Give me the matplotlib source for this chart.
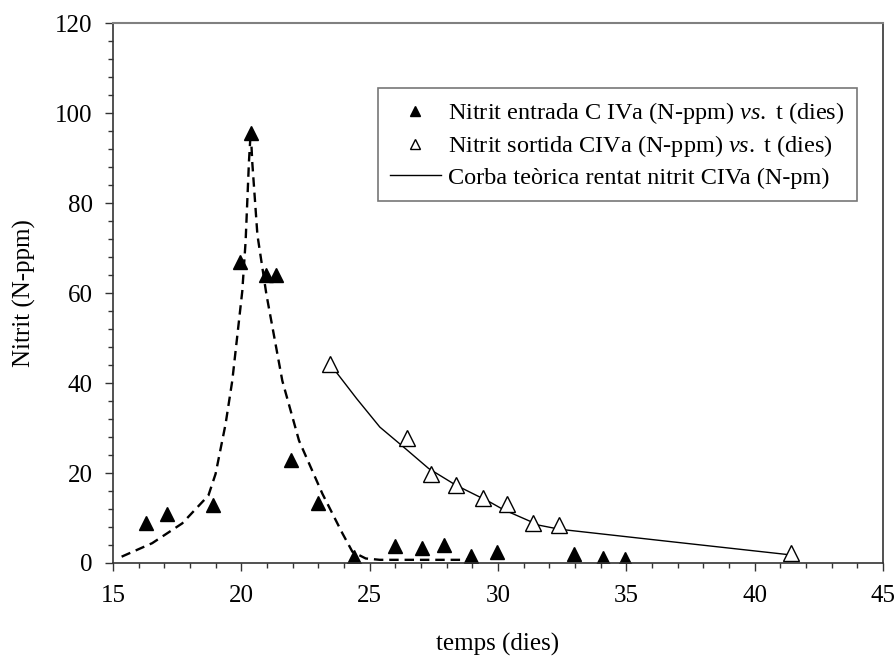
import matplotlib
matplotlib.use("Agg")
import matplotlib.pyplot as plt
from matplotlib.ticker import MultipleLocator

plt.rcParams['font.family'] = ['Liberation Serif', 'DejaVu Serif']
plt.rcParams['mathtext.fontset'] = 'custom'
plt.rcParams['mathtext.it'] = 'Liberation Serif:italic'
plt.rcParams['mathtext.rm'] = 'Liberation Serif'

# dades d'entrada (triangles plens)
t_entrada = [16.3, 17.1, 18.9, 19.94, 20.37, 20.98, 21.37, 21.95, 23.0, 24.4,
             26.0, 27.05, 27.9, 28.95, 29.95, 32.97, 34.1, 34.96]
n_entrada = [8.8, 10.8, 12.8, 67.0, 95.5, 64.0, 64.0, 23.0, 13.3, 1.4,
             3.8, 3.3, 4.0, 1.6, 2.4, 1.9, 1.2, 0.8]

# dades de sortida (triangles buits)
t_sortida = [23.46, 26.45, 27.39, 28.36, 29.4, 30.37, 31.38, 32.36, 41.42]
n_sortida = [44.2, 27.8, 19.8, 17.4, 14.5, 13.1, 8.8, 8.4, 2.3]

# corba teorica (linia continua)
t_teo = [23.46, 24.5, 25.4, 26.4, 27.3, 28.36, 29.7, 30.2, 31.6, 32.4, 36.8, 41.4]
n_teo = [44.2, 36.5, 30.2, 25.4, 21.0, 17.3, 13.5, 11.9, 8.4, 7.5, 4.7, 1.8]

# corba d'entrada (linia discontinua)
t_dash = [15.34, 16.53, 17.7, 18.72, 19.0, 19.39, 19.65, 20.04, 20.17, 20.3, 20.37,
          20.43, 20.63, 20.98, 21.6, 22.25, 23.16, 23.94, 24.33, 24.85, 25.4, 29.0]
n_dash = [1.4, 4.4, 8.8, 15.0, 19.8, 30.9, 40.5, 60.4, 71.5, 89.2, 96.0,
          89.0, 72.9, 59.7, 40.5, 27.2, 15.4, 6.6, 2.5, 1.0, 0.7, 0.7]

fig = plt.figure(figsize=(8.96, 6.6), dpi=100)
ax = fig.add_axes([0.126, 0.147, 0.8595, 0.818])

ax.plot(t_dash, n_dash, color='black', linestyle=(0, (4, 2.5)), linewidth=1.7)
ax.plot(t_teo, n_teo, color='black', linewidth=1.0,
        label='Corba teòrica rentat nitrit CIVa (N-pm)')
ax.plot(t_entrada, n_entrada, linestyle='none', marker='^', markersize=10.5,
        color='black', label=r'Nitrit entrada C IVa (N-ppm) $\mathit{vs.}$ t (dies)')
ax.plot(t_sortida, n_sortida, linestyle='none', marker='^', markersize=11,
        markerfacecolor='white', markeredgecolor='black', markeredgewidth=1.0,
        label=r'Nitrit sortida CIVa (N-ppm) $\mathit{vs.}$ t (dies)')

ax.set_xlim(15, 45)
ax.set_ylim(0, 120)
ax.xaxis.set_major_locator(MultipleLocator(5))
ax.xaxis.set_minor_locator(MultipleLocator(1))
ax.yaxis.set_major_locator(MultipleLocator(20))
ax.yaxis.set_minor_locator(MultipleLocator(4))
ax.tick_params(which='major', direction='out', length=5.5, width=1,
               labelsize=18, color='#333333')
ax.tick_params(which='minor', direction='out', length=3.5, width=1, color='#333333')
ax.tick_params(axis='x', pad=10)
ax.tick_params(axis='y', pad=9)

for s in ax.spines.values():
    s.set_color('#333333')
    s.set_linewidth(1.2)
ax.spines['top'].set_color('#808080')
ax.spines['top'].set_linewidth(1.5)

ax.set_xlabel('temps (dies)', fontsize=18, labelpad=19)
ax.set_ylabel('Nitrit (N-ppm)', fontsize=18, labelpad=14)

handles, labels = ax.get_legend_handles_labels()
order = [1, 2, 0]
leg = ax.legend([handles[i] for i in order], [labels[i] for i in order],
                loc='upper left', bbox_to_anchor=(0.344, 0.88),
                borderaxespad=0, fontsize=17.5, frameon=True, fancybox=False,
                markerscale=0.65, handlelength=2.1, handletextpad=0.3,
                borderpad=0.5, labelspacing=0.3)
leg.get_frame().set_edgecolor('#555555')
leg.get_frame().set_linewidth(1.2)

fig.savefig('out.png', dpi=100)
